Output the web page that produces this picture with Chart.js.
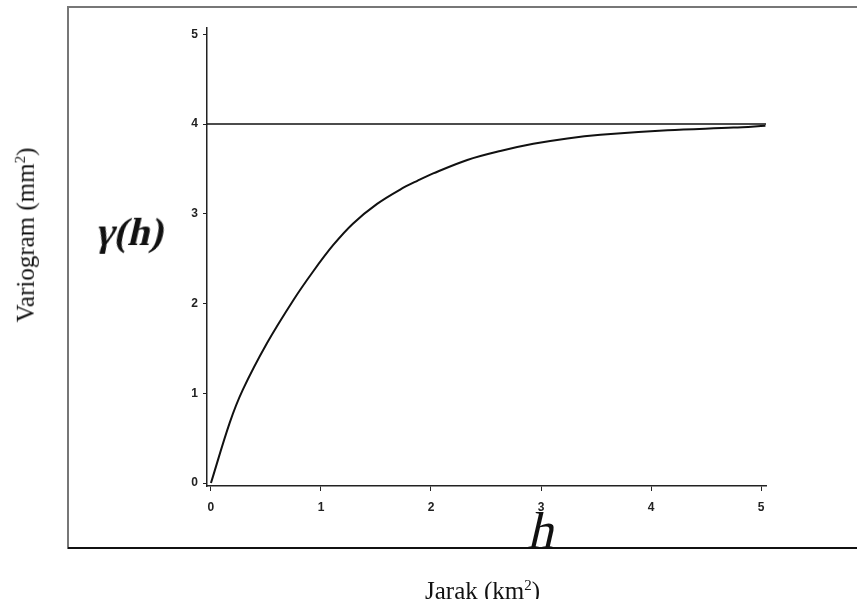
<!DOCTYPE html>
<html>
<head>
<meta charset="utf-8">
<script src="https://cdn.jsdelivr.net/npm/chart.js@4/dist/chart.umd.min.js"></script>
<style>
  html, body { margin: 0; padding: 0; background: #fff; }
  #wrap { position: relative; width: 857px; height: 599px; overflow: hidden; }
  #chart { position: absolute; left: 0; top: 0; }
  .line { position: absolute; }
  .lbl { position: absolute; font-family: "Liberation Serif", "Times New Roman", serif; color: #111; white-space: nowrap; }
  .slant { transform-origin: left bottom; transform: skewX(-13deg); }
</style>
</head>
<body>
<div id="wrap">
  <canvas id="chart" width="857" height="599"></canvas>
  <!-- frame around the figure (open on the right) -->
  <div class="line" style="left:68px;top:6px;width:789px;height:2px;background:#777"></div>
  <div class="line" style="left:67px;top:6px;width:2px;height:543px;background:#777"></div>
  <div class="line" style="left:68px;top:547px;width:789px;height:1.5px;background:#111"></div>

  <div class="lbl slant" style="left:93px;top:211px;font-size:40px;line-height:42px;font-weight:bold">&gamma;(h)</div>
  <div class="lbl slant" style="left:525px;top:505px;font-size:52px;line-height:52px">h</div>
  <div class="lbl" style="left:425px;top:571px;font-size:25px;line-height:28px">Jarak (km<sup style="font-size:15px">2</sup>)</div>
  <div class="lbl" style="left:23px;top:235px;font-size:25px;line-height:28px;transform:translate(-50%,-50%) rotate(-90deg)">Variogram (mm<sup style="font-size:15px">2</sup>)</div>
</div>
<script>
// lag distance h and semivariance
const lagH   = [0, 0.17, 0.29, 0.51, 0.75, 0.93, 1.11, 1.29, 1.51, 1.72, 1.88, 2.02, 2.33, 2.63, 2.93, 3.24, 3.54, 4.15, 4.75, 5.04]
const gammaH = [0, 0.67, 1.04, 1.56, 2.04, 2.36, 2.65, 2.89, 3.11, 3.27, 3.37, 3.45, 3.60, 3.70, 3.78, 3.84, 3.88, 3.93, 3.96, 3.98]

// sill line
const sillH = [-0.036, 5.045]
const sillV = [4, 4]

const xTicks = [0, 1, 2, 3, 4, 5]
const yTicks = [0, 1, 2, 3, 4, 5]

const tickFont = { family: 'Liberation Sans', size: 12, weight: 'bold' }

new Chart(document.getElementById('chart'), {
  type: 'scatter',
  data: {
    datasets: [
      {
        data: lagH.map((h, i) => ({ x: h, y: gammaH[i] })),
        showLine: true,
        borderColor: '#111',
        borderWidth: 2,
        pointRadius: 0,
        tension: 0.35,
      },
      {
        data: sillH.map((h, i) => ({ x: h, y: sillV[i] })),
        showLine: true,
        borderColor: '#111',
        borderWidth: 1.6,
        pointRadius: 0,
      },
    ],
  },
  options: {
    responsive: false,
    animation: false,
    layout: { padding: { left: 167, top: 28, right: 91, bottom: 83 } },
    plugins: { legend: { display: false }, tooltip: { enabled: false } },
    scales: {
      x: {
        type: 'linear',
        min: -0.036,
        max: 5.045,
        afterFit: s => { s.height = 30 },
        afterBuildTicks: s => { s.ticks = xTicks.map(v => ({ value: v })) },
        border: { color: '#222', width: 1.5 },
        grid: { drawOnChartArea: false, drawTicks: true, tickLength: 5, color: '#222' },
        ticks: { color: '#222', font: tickFont, padding: 9 },
      },
      y: {
        min: -0.033,
        max: 5.07,
        afterFit: s => { s.width = 40 },
        afterBuildTicks: s => { s.ticks = yTicks.map(v => ({ value: v })) },
        border: { color: '#222', width: 1.5 },
        grid: { drawOnChartArea: false, drawTicks: true, tickLength: 4, color: '#222' },
        ticks: { color: '#222', font: tickFont, padding: 5 },
      },
    },
  },
})
</script>
</body>
</html>
